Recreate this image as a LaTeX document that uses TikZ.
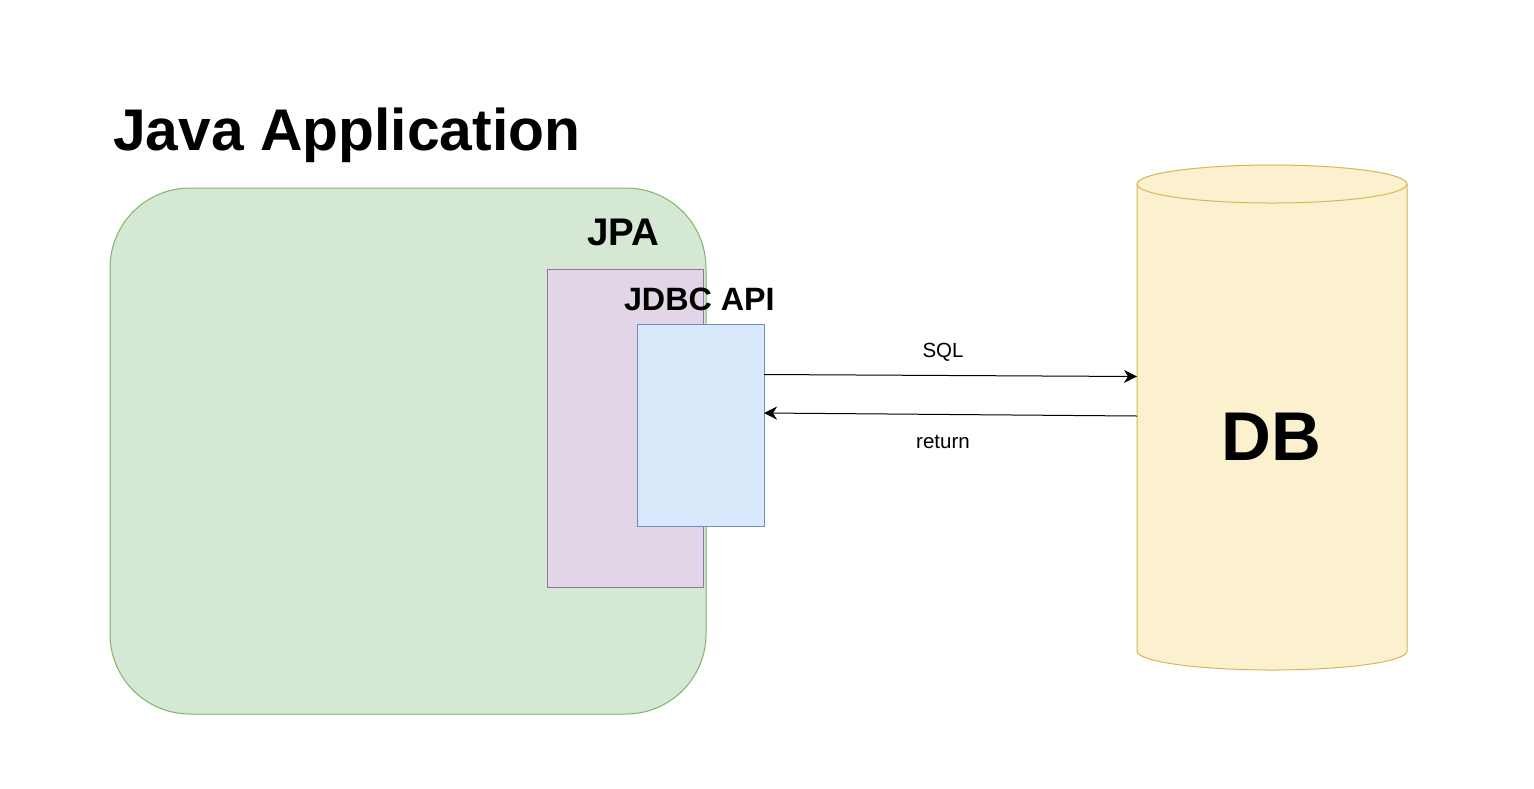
\documentclass[tikz,border=0pt]{standalone}
\usepackage{fontspec}
\setmainfont{Liberation Sans}
\usetikzlibrary{arrows.meta}
\definecolor{gfill}{HTML}{D5E8D4}
\definecolor{gline}{HTML}{82B366}
\definecolor{pfill}{HTML}{E1D5E7}
\definecolor{pline}{HTML}{9673A6}
\definecolor{bfill}{HTML}{DAE8FC}
\definecolor{bline}{HTML}{6C8EBF}
\definecolor{yfill}{HTML}{FCF1CF}
\definecolor{yline}{HTML}{D6B656}
\tikzset{
  boxstyle/.style={inner sep=0pt, outer sep=0pt, line width=1pt},
  lbl/.style={inner sep=0pt, outer sep=0pt, anchor=base west, font=\bfseries},
  elbl/.style={inner sep=0pt, outer sep=0pt, anchor=base, font=\fontsize{20.5}{20.5}\selectfont},
  arr/.style={line width=1pt, -{Stealth[length=13pt,width=13pt,inset=4pt]}}
}
\begin{document}
\begin{tikzpicture}[x=1pt,y=-1pt]
\useasboundingbox (0,0) rectangle (1534,788);
\fill[white] (0,0) rectangle (1534,788);
% Java application
\draw[boxstyle, draw=gline, fill=gfill, rounded corners=80pt] (110,188) rectangle (706,714);
\node[lbl, font=\bfseries\fontsize{58.8}{58.8}\selectfont] (title) at (113,150) {Java Application};
% JPA
\node[boxstyle, draw=pline, fill=pfill, minimum width=156pt, minimum height=318pt, anchor=north west] (jpa) at (547,269) {};
\node[lbl, font=\bfseries\fontsize{38.5}{38.5}\selectfont] (jpalbl) at (587,245) {JPA};
% JDBC
\node[boxstyle, draw=bline, fill=bfill, minimum width=127pt, minimum height=202pt, anchor=north west] (jdbc) at (637,324) {};
\node[lbl, font=\bfseries\fontsize{32.3}{32.3}\selectfont] (jdbclbl) at (624,310) {JDBC API};
% DB cylinder
\draw[line width=1pt, draw=yline, fill=yfill]
  (1137,184) -- (1137,651) arc[start angle=180, end angle=0, x radius=135, y radius=19]
  -- (1407,184) arc[start angle=0, end angle=-180, x radius=135, y radius=19] -- cycle;
\draw[line width=1pt, draw=yline] (1137,184) arc[start angle=180, end angle=360, x radius=135, y radius=-19];
\node[inner sep=0pt, outer sep=0pt, minimum width=270pt, minimum height=467pt, anchor=north west] (db) at (1137,184) {};
\node[inner sep=0pt, anchor=base, font=\bfseries\fontsize{69}{69}\selectfont] (dblbl) at (1271,460) {DB};
% arrows
\draw[arr] (jdbc.east |- 0,374.5) -- node[pos=0.48, elbl, yshift=18pt] (sql) {SQL} (db.west |- 0,376.5);
\draw[arr] (db.west |- 0,416) -- (jdbc.east |- 0,413);
\node[elbl] (ret) at (943,448) {return};
\end{tikzpicture}
\end{document}
